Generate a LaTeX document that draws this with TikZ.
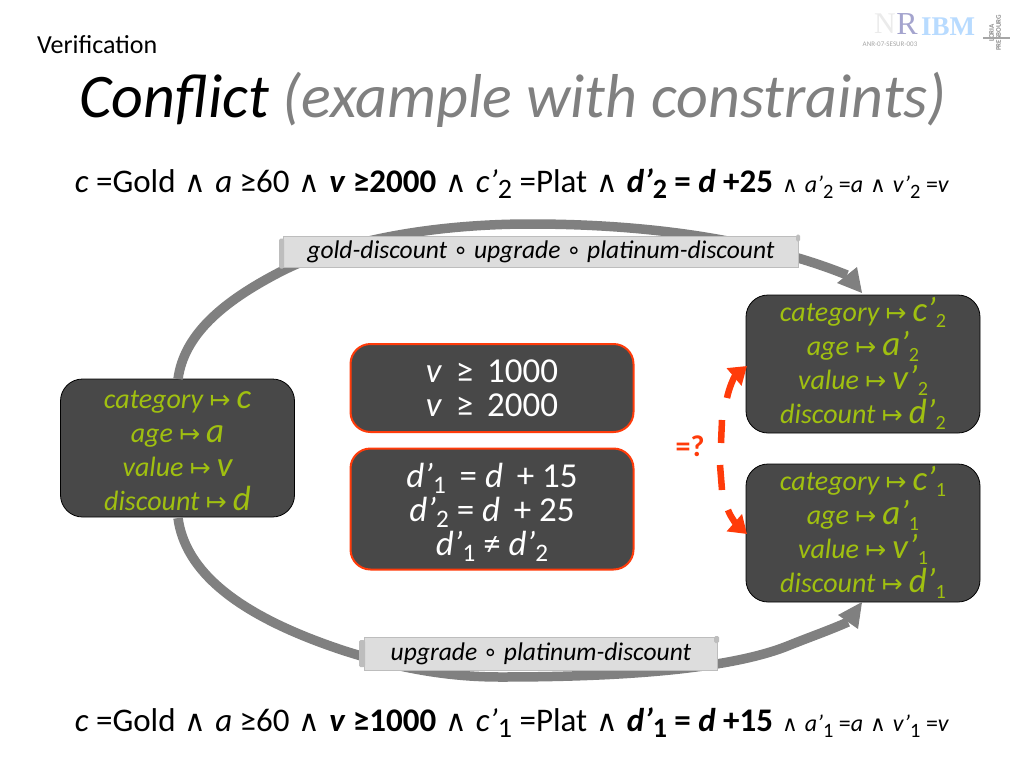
\documentclass[tikz,border=0pt]{standalone}
\usepackage{fontspec}
\setmainfont{Carlito}
\newfontfamily\djv{DejaVu Sans}
\newfontfamily\srf{Liberation Serif}
\usetikzlibrary{arrows.meta}
\definecolor{boxdark}{HTML}{484848}
\definecolor{lime}{HTML}{A0C010}
\definecolor{redor}{HTML}{FF3B0A}
\definecolor{flow}{HTML}{808080}
\definecolor{scrollfill}{HTML}{DDDDDD}
\definecolor{scrolledge}{HTML}{BDBDBD}
\newcommand{\mto}{{\djv\fontsize{25}{25}\selectfont\upshape\raisebox{0pt}{↦}}}
\newcommand{\wedgeS}{\hspace{1.5pt}{\djv\upshape\scalebox{0.9}{∧}}\hspace{1.5pt}}
\newcommand{\circS}{{\djv\upshape\scalebox{0.95}{∘}}}
\newcommand{\sbb}[1]{\smash{\raisebox{-6pt}{\scalebox{0.85}{\upshape\mdseries #1}}}}
\newcommand{\sbbb}[1]{\smash{\raisebox{-6pt}{\scalebox{0.85}{\upshape\bfseries #1}}}}
\newcommand{\sbc}[1]{\smash{\raisebox{-6pt}{\scalebox{0.72}{\upshape #1}}}}
\newcommand{\bigv}[1]{\hspace{6pt}{\fontsize{35}{34}\selectfont\smash{#1}}}
\newcommand{\topfix}[1]{\rule{0pt}{#1}}
\tikzset{
  x=1pt,y=-1pt,
  state/.style={draw=black,line width=.8pt,fill=boxdark,rounded corners=22pt,minimum width=234pt,minimum height=138pt,inner sep=0pt,text=lime,align=center,font=\fontsize{28}{34}\selectfont\itshape},
  cons/.style={draw=redor,line width=2pt,fill=boxdark,rounded corners=20pt,minimum width=283pt,inner sep=0pt,text=white,align=center,font=\fontsize{35}{34}\selectfont},
  scrollb/.style={draw=scrolledge,line width=1pt,fill=scrollfill,inner sep=0pt,align=center,text=black,font=\fontsize{25.5}{28}\selectfont\itshape},
  curl/.style={fill=scrolledge,rounded corners=1.5pt},
  flowline/.style={draw=flow,line width=9.5pt},
  flowhead/.style={fill=flow},
  eqdash/.style={draw=redor,line width=6.5pt},
  eqtip/.style={eqdash,-{Triangle[length=17pt,width=22pt]}},
  formula/.style={inner sep=0pt,anchor=base,font=\fontsize{33}{34}\selectfont},
}
\begin{document}
\begin{tikzpicture}
\useasboundingbox[fill=white] (0,0) rectangle (1024,768);
% logo
\node[name=logoA,inner sep=0pt,text=black!8,font=\srf\fontsize{30}{30}\selectfont] at (885,24) {N};
\node[name=logoB,inner sep=0pt,text=blue!30!gray!55,font=\srf\fontsize{32}{32}\selectfont] at (907,24) {R};
\node[name=logoC,inner sep=0pt,text=blue!50!cyan!28,font=\srf\fontsize{27}{27}\selectfont\bfseries] at (948,27) {IBM};
\node[name=logoD,inner sep=0pt,text=black!35,font=\fontsize{7}{7}\selectfont] at (890,44) {ANR-07-SESUR-003};
\node[name=logoE,inner sep=0pt,text=black!45,rotate=90,font=\fontsize{7}{7}\selectfont\bfseries,align=center] at (995,33) {LORIA\\PRESBOURG};
\draw[black!35,line width=1.5pt] (983,38) -- (1010,38);
% titles
\node[name=section,inner sep=0pt,anchor=base west,font=\fontsize{26}{26}\selectfont] at (37,53) {Verification};
\node[name=title,inner sep=0pt,anchor=base,font=\fontsize{62}{62}\selectfont\itshape] at (513,117) {Conflict \textcolor{flow}{(example with constraints)}};
% formulas
\node[name=topf,formula] at (512,192) {\textit{c} =Gold \wedgeS\ \textit{a} ≥60 \wedgeS\ \textbf{\textit{v} ≥2000} \wedgeS\ \textit{c’}\sbb{2} =Plat \wedgeS\ \textbf{\textit{d’}\sbbb{2} = \textit{d} +25} {\fontsize{24}{24}\selectfont \wedgeS\ \textit{a’}\sbb{2} =\textit{a} \wedgeS\ \textit{v’}\sbb{2} =\textit{v}}};
\node[name=botf,formula] at (512,731) {\textit{c} =Gold \wedgeS\ \textit{a} ≥60 \wedgeS\ \textbf{\textit{v} ≥1000} \wedgeS\ \textit{c’}\sbb{1} =Plat \wedgeS\ \textbf{\textit{d’}\sbbb{1} = \textit{d} +15} {\fontsize{24}{24}\selectfont \wedgeS\ \textit{a’}\sbb{1} =\textit{a} \wedgeS\ \textit{v’}\sbb{1} =\textit{v}}};
% state boxes
\node[name=src,state] at (177.5,448) {\topfix{24pt}category \mto\bigv{c}\\age \mto\bigv{a}\\value \mto\bigv{v}\\discount \mto\bigv{d}};
\node[name=two,state] at (863,364) {category \mto\bigv{c’}\sbc{2}\\age \mto\bigv{a’}\sbc{2}\\value \mto\bigv{v’}\sbc{2}\\discount \mto\bigv{d’}\sbc{2}};
\node[name=one,state] at (863,533) {category \mto\bigv{c’}\sbc{1}\\age \mto\bigv{a’}\sbc{1}\\value \mto\bigv{v’}\sbc{1}\\discount \mto\bigv{d’}\sbc{1}};
% constraint boxes
\node[name=consA,cons,minimum height=88pt] at (492,388) {\textit{v} \,≥\, 1000\\\textit{v} \,≥\, 2000};
\node[name=consB,cons,minimum height=121pt] at (492,509) {\topfix{24pt}\textit{d’}\sbc{1} \,= \textit{d} \,+ 15\\\textit{d’}\sbc{2} = \textit{d} \,+ 25\\\textit{d’}\sbc{1} ≠ \textit{d’}\sbc{2}};
% flows
\coordinate (srcT) at (178,379);
\coordinate (srcB) at (178,518);
\coordinate (twoT) at (862,293);
\coordinate (oneB) at (862,602);
\path[flowline] (srcT) .. controls (184,335) and (222,302) .. (280,272) .. controls (350,236) and (450,224) .. (530,224) .. controls (650,224) and (760,240) .. (847,275);
\path[flowhead] (twoT) -- (837,283) -- (857,267) -- cycle;
\path[flowline] (srcB) .. controls (185,570) and (235,615) .. (345,651) .. controls (395,667) and (445,677) .. (500,677) .. controls (600,677) and (725,672) .. (790,645) .. controls (810,637) and (830,630) .. (848,622);
\path[flowhead] (oneB) -- (838,615) -- (858,629) -- cycle;
% equality arrows
\coordinate (twoL) at (747,366);
\coordinate (oneL) at (747,534);
\coordinate (eqA) at (721,443);
\coordinate (eqB) at (722,420);
\coordinate (eqC) at (727,398);
\coordinate (eqD) at (720,465);
\coordinate (eqE) at (722,490);
\coordinate (eqF) at (728,510);
\path[eqdash] (eqA) -- (eqB);
\path[eqtip] (eqC) .. controls (729,388) and (734,377) .. (twoL);
\path[eqdash] (eqD) -- (eqE);
\path[eqtip] (eqF) .. controls (731,518) and (738,526) .. (oneL);
\node[name=eqq,inner sep=0pt,text=redor,font=\fontsize{30}{30}\selectfont\bfseries] at (690,446) {=?};
% scrolls
\node[name=scrollA,scrollb,minimum width=515pt,minimum height=31pt] at (541,251.5) {\raisebox{-1pt}{gold-discount \circS\ upgrade \circS\ platinum-discount}};
\node[name=scrollB,scrollb,minimum width=353pt,minimum height=33pt] at (541,654) {\raisebox{-1.5pt}{upgrade \circS\ platinum-discount}};
\path[curl] ([xshift=-4pt,yshift=-3pt]scrollA.north west) rectangle ([xshift=1pt,yshift=-1pt]scrollA.south west);
\path[curl] ([xshift=-3pt,yshift=-6pt]scrollA.north east) rectangle ([xshift=1pt,yshift=1pt]scrollA.north east);
\path[curl] ([xshift=-5pt,yshift=-3pt]scrollB.north west) rectangle ([xshift=1pt,yshift=4pt]scrollB.south west);
\path[curl] ([xshift=-4pt,yshift=-6pt]scrollB.north east) rectangle ([xshift=1pt,yshift=1pt]scrollB.north east);
\end{tikzpicture}
\end{document}
